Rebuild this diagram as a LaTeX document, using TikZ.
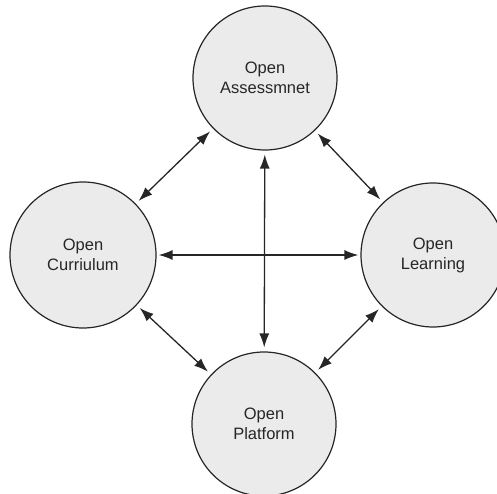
\documentclass[tikz,border=0pt]{standalone}
\usepackage{fontspec}
\setmainfont{Liberation Sans}
\usetikzlibrary{arrows.meta}
\begin{document}
\begin{tikzpicture}[x=1pt,y=1pt,
  topic/.style={circle,draw=black!85,line width=1.2pt,fill=black!8,inner sep=0pt,
    minimum size=144pt,align=center,font=\fontsize{16.5}{20}\selectfont,text=black!85},
  link/.style={{Latex[length=14pt,width=10pt]}-{Latex[length=14pt,width=10pt]},
    line width=1.3pt,draw=black!85,shorten <=4pt,shorten >=4pt}]
\useasboundingbox (0,0) rectangle (497,494);
\node[topic] (top) at (265,416) {Open\\Assessmnet};
\node[topic,minimum size=146pt] (left) at (83,239) {Open\\Curriulum};
\node[topic] (right) at (433,239) {Open\\Learning};
\node[topic] (bot) at (264,70) {Open\\Platform};
\draw[link] (top) -- (left);
\draw[link] (top) -- (right);
\draw[link] (left) -- (bot);
\draw[link] (right) -- (bot);
\draw[link,shorten <=2pt,shorten >=2pt] (left) -- (right);
\draw[link] (top) -- (bot);
\end{tikzpicture}
\end{document}
